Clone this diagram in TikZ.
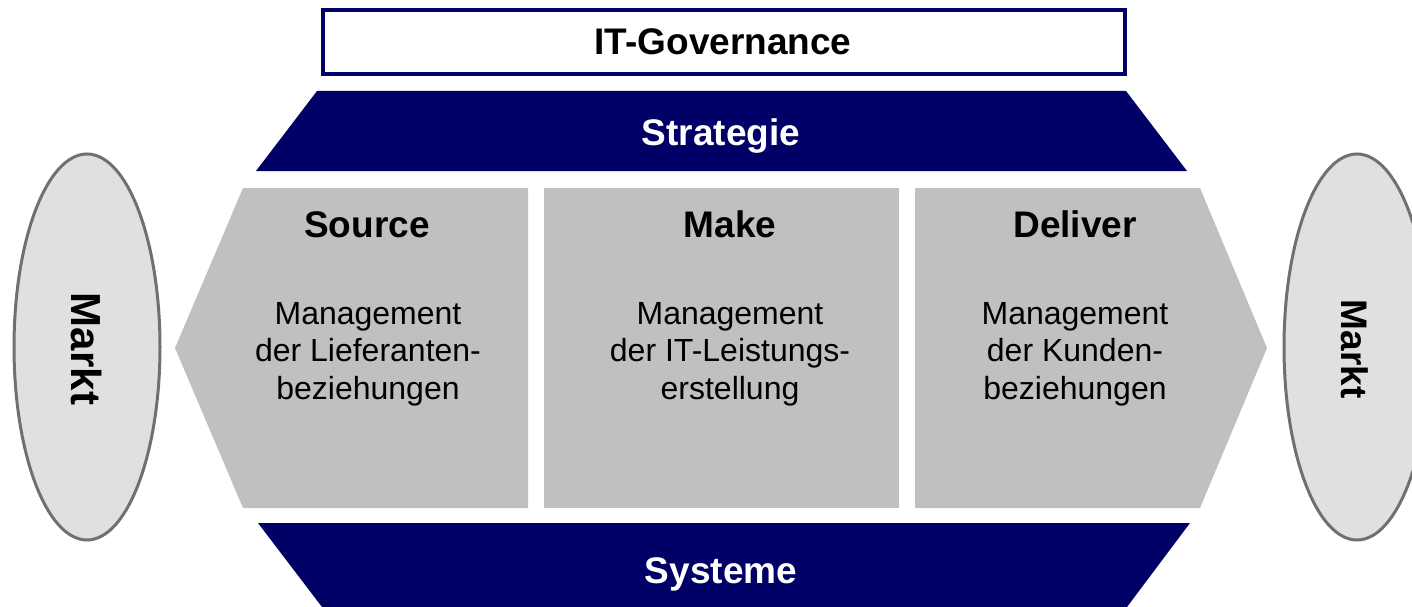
\documentclass[tikz,border=0pt]{standalone}
\usepackage{fontspec}
\setmainfont{Liberation Sans}
\definecolor{navy}{RGB}{0,0,102}
\definecolor{panel}{RGB}{192,192,192}
\definecolor{marketfill}{RGB}{224,224,224}
\definecolor{marketline}{RGB}{112,112,112}
\tikzset{
  band/.style={fill=navy},
  panelshape/.style={fill=panel},
  heading/.style={font=\fontsize{37}{44}\selectfont\bfseries, text=black, inner sep=0pt},
  bandlabel/.style={font=\fontsize{37}{44}\selectfont\bfseries, text=white, inner sep=0pt, anchor=base},
  body/.style={font=\fontsize{32}{37.5}\selectfont, align=center, text=black, inner sep=0pt},
  market/.style={fill=marketfill, draw=marketline, line width=3pt},
}
\begin{document}
\begin{tikzpicture}[x=1pt, y=-1pt]
\useasboundingbox (0,0) rectangle (1412,607);
% governance frame
\draw[navy, line width=4pt, fill=white] (323,10) rectangle (1125,74);
\node[heading] (gov) at (723,42) {IT-Governance};
% strategy and systems bands
\fill[band] (317,91) -- (1126,91) -- (1187,171) -- (256,171) -- cycle;
\node[bandlabel] (strat) at (721,145) {Strategie};
\fill[band] (258,523) -- (1190,523) -- (1127,607) -- (322,607) -- cycle;
\node[bandlabel] (sys) at (721,583) {Systeme};
% process panels
\fill[panelshape] (243,188) -- (528,188) -- (528,508) -- (243,508) -- (175,348) -- cycle;
\fill[panelshape] (544,188) rectangle (899,508);
\fill[panelshape] (915,188) -- (1200,188) -- (1267,348) -- (1200,508) -- (915,508) -- cycle;
\node[heading, anchor=base] (source) at (367,237) {Source};
\node[heading, anchor=base] (make) at (730,237) {Make};
\node[heading, anchor=base] (deliver) at (1075,237) {Deliver};
\node[body] (sourcetxt) at (368,354) {Management\\der Lieferanten-\\beziehungen};
\node[body] (maketxt) at (730,354) {Management\\der IT-Leistungs-\\erstellung};
\node[body] (delivertxt) at (1075,354) {Management\\der Kunden-\\beziehungen};
% markets on both sides
\draw[market] (87,347) ellipse [x radius=73, y radius=193];
\node[font=\fontsize{42}{48}\selectfont\bfseries, rotate=-90, inner sep=0pt] (mleft) at (87,349) {Markt};
\draw[market] (1357,347) ellipse [x radius=73, y radius=193];
\node[font=\fontsize{37}{44}\selectfont\bfseries, rotate=-90, inner sep=0pt] (mright) at (1355,349) {Markt};
\end{tikzpicture}
\end{document}
